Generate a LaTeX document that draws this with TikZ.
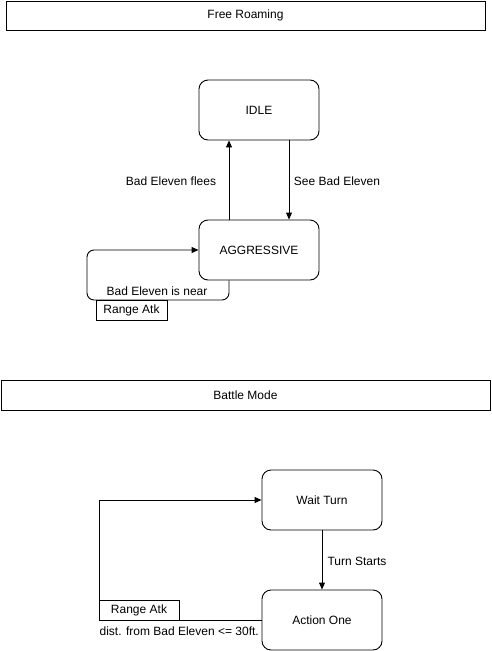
\documentclass[tikz,border=0pt]{standalone}
\usepackage{fontspec}
\setmainfont{Liberation Sans}
\usetikzlibrary{arrows.meta}
\begin{document}
\begin{tikzpicture}[x=1pt,y=-1pt,
  every node/.style={font=\fontsize{12}{14}\selectfont, inner sep=1pt},
  state/.style={draw, rounded corners=9pt, minimum width=120pt, minimum height=60pt, line width=0.9pt},
  banner/.style={draw, line width=0.8pt},
  tagbox/.style={draw, line width=0.6pt},
  conn/.style={line width=0.9pt, -{Triangle[length=7pt,width=6pt]}},
  lbl/.style={fill=white}]
\useasboundingbox (0,0) rectangle (491,651);
% banners
\draw[banner] (6,1) rectangle (485,30);
\node (fr) at (245.5,15.5) {Free Roaming};
\draw[banner] (1,380) rectangle (490,410);
\node (bm) at (245.5,395) {Battle Mode};
% states
\node[state] (idle) at (259,110) {IDLE};
\node[state] (agg) at (259,250) {AGGRESSIVE};
\node[state] (wait) at (322,500) {Wait Turn};
\node[state] (act) at (322,620) {Action One};
% idle <-> aggressive
\draw[conn] (idle.south -| 289,0) -- (agg.north -| 289,0);
\node at (337,181) {See Bad Eleven};
\draw[conn] (agg.north -| 229,0) -- (idle.south -| 229,0);
\node at (171,181) {Bad Eleven flees};
% self loop
\coordinate (l1) at (229,300);
\coordinate (l2) at (87,300);
\coordinate (l3) at (87,250);
\draw[conn, rounded corners=7pt] (agg.south -| 229,0) -- (l1) -- (l2) -- (l3) -- (agg.west);
\node[lbl] (near) at (157,291) {Bad Eleven is near};
\node[tagbox, fill=white, minimum width=71pt, minimum height=20pt, inner sep=0pt] (ra1) at (131.5,310) {Range Atk};
% battle
\draw[conn] (wait) -- (act);
\node at (357,561) {Turn Starts};
\coordinate (b1) at (99,620);
\coordinate (b2) at (99,500);
\draw[conn] (act.west) -- (b1) -- (b2) -- (wait.west);
\node[tagbox, fill=white, minimum width=80pt, minimum height=20pt, inner sep=0pt] (ra2) at (139,610) {Range Atk};
\node[lbl, anchor=east] (dist) at (260,631) {dist. from Bad Eleven <= 30ft.};
\end{tikzpicture}
\end{document}
